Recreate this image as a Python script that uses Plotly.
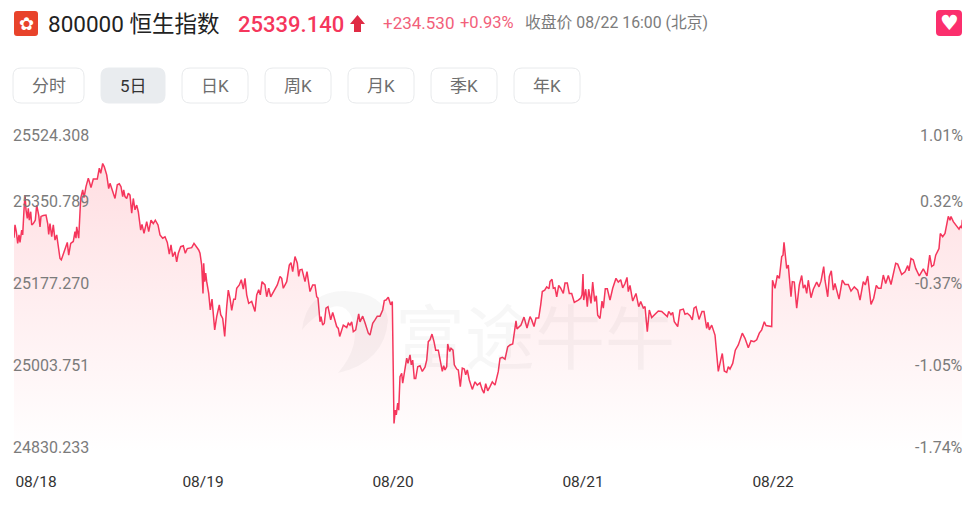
import plotly.graph_objects as go

# session clock (one session = 190 units) and index level
session_t = [
 0,1,2.3,3.7,5,6,7.7,8.7,10,11,12,13.3,14.3,15.3,16.7,17.7,19.3,21.3,22.7,24.7,26,27,29.3,32,33.7,34.7,36,37.7,39.3,41,42.7,44.7,46,47.3,49.3,52,53.3,54.7,56.7,59.3,61,62,62.7,64.7,65.3,66.7,68.7,70,72,74.3,75.3,77,79.3,83.3,85.3,86.7,88.7,90.3,92.7,94.7,96,97.7,99.3,101,103.3,105.3,107,108.7,109.7,111,112.7,114.3,116,117.7,119.3,121,122.7,124.3,126.7,128,130,132.7,134.7,137,139.3,141.3,144,146,148.7,151,153.3,155.3,157,158.7,161,162.7,164.3,166.7,169.3,171.3,173.3,177.7,180,182.7,184.7,
 186,187.7,189,189.7,190.7,191.7,192.7,194.7,196.3,198,200.7,202.7,205.3,206.7,208.7,210.7,212.7,214.3,216,217.7,219.7,221.3,222.7,225.3,227.3,229.3,231,232.7,234.7,237.7,241,242.7,244.7,246.3,248,251,252.7,254.7,256.7,261,263.3,266,267.7,269.3,272.7,275.3,277,278.7,281,283.3,284.7,286,288,291,293,296,298.7,301,302.7,304,306,307,308.7,310.3,312,314,316.7,318.7,321,322.7,324.3,325.7,329.3,332.7,334.3,336,337.7,339.3,341.7,344.7,346,348.7,351,354.3,356,358.7,361,363.3,366,368.7,370.3,372,374.3,376.7,378.3,
 379.3,380,381.3,382.3,383.7,384.7,386,387.7,388.7,390.3,392.7,394,396,397.3,398.7,400.3,401.7,403.7,406,408.3,411,412.7,414.3,416,418,420,421.7,424.3,426,428.3,429.7,431,432.7,433.7,435.7,437,439,440.3,442.7,444.3,446.3,448.3,450.3,451.7,453.3,455.3,458.3,461,463.3,466,468.3,470,471.7,473.7,476,478.3,481,483,484.3,486,488.3,491,493.7,496,498.7,502,503,507,510,513,
 516,517.7,520,522,524.7,526.7,528.3,530.7,532.7,535,536,538,539.3,541,542.7,544.7,546.7,549.3,551,553.3,555.3,557.7,560.3,564.3,566.7,568,569,569.7,571.7,573.3,574.7,577,578.7,580.7,582.3,583.7,586,588,589.3,591.3,593.3,596,598.7,602,604.3,606.7,608.7,611,613,614.3,616,618.7,622,624.7,626.7,629.3,631,633.3,635.3,637.7,641,644.3,647.7,650.3,653.3,654.7,657,658.7,660.3,663.7,666,669.3,671,673.3,676,678.3,680,682,685,688,690,692.7,694,695.3,697.7,701,702.7,704.3,706.7,708.3,710.3,712.7,714.3,716,718.7,721.3,724.3,726,728.3,731,734.3,737,740,742.7,745.3,747.7,750.3,752,757.7,
 758.5,761,763.3,765.3,767.7,769,770,771,772.7,774.3,777,778.3,780.3,782.7,785.3,787.7,789.3,791,792.7,794.3,797,799.3,802.7,805,807,809.7,811,813.7,815.3,817.3,819.3,821,825,828.3,831,834.3,837,840.3,843.7,846,849.3,851.3,853.7,857,859.7,862.3,864.3,867,869.3,871.7,874.3,877,879.3,881.7,883.7,887.7,891,893.7,895,897,899.3,901.7,905.3,909.3,913,915.7,917.7,919.7,921.7,925,926.3,928.7,931,932.7,934.3,936,937,939.3,942.7,945,946.7,947.7,948.3]
index_v = [
 25307,25334,25320,25295,25313,25297,25323,25313,25366,25397,25366,25348,25369,25344,25362,25334,25337,25344,25376,25355,25330,25352,25354,25355,25337,25314,25337,25309,25334,25302,25313,25274,25263,25260,25272,25292,25297,25270,25295,25299,25320,25306,25330,25306,25332,25390,25408,25392,25415,25433,25426,25413,25431,25431,25454,25443,25464,25457,25440,25411,25422,25411,25401,25390,25419,25421,25415,25394,25408,25394,25390,25401,25397,25359,25390,25366,25376,25362,25323,25335,25316,25341,25320,25344,25337,25344,25334,25313,25306,25309,25297,25272,25292,25267,25277,25256,25274,25288,25290,25274,25284,25286,25295,25288,25281,
 25274,25249,25189,25253,25214,25232,25214,25189,25154,25177,25112,25140,25165,25144,25136,25098,25161,25196,25179,25153,25177,25177,25200,25207,25218,25198,25221,25186,25168,25172,25151,25186,25197,25186,25214,25207,25182,25200,25182,25200,25207,25225,25221,25200,25214,25249,25254,25235,25267,25253,25225,25239,25240,25214,25235,25193,25207,25207,25182,25179,25129,25140,25122,25126,25158,25161,25133,25149,25133,25119,25115,25098,25122,25117,25126,25122,25129,25108,25112,25146,25129,25141,25127,25105,25101,25126,25133,25141,25141,25154,25174,25175,25181,25165,25172,
 25006,24914,24942,24932,24957,24942,25013,25020,24999,25020,25052,25041,25059,25038,25048,25009,25009,25034,25036,25024,25033,25048,25087,25091,25103,25087,25069,25069,25052,25024,25036,25027,25034,25082,25066,25073,25069,25038,25029,25027,24992,25031,25029,25017,25027,25006,24986,25002,24995,25000,24985,24978,24998,24983,24992,25002,24995,25017,25024,25052,25054,25050,25076,25080,25082,25131,25114,25122,25139,25116,
 25140,25133,25119,25137,25137,25165,25193,25196,25203,25199,25214,25219,25200,25201,25182,25206,25200,25189,25211,25211,25189,25189,25170,25175,25179,25186,25230,25175,25198,25161,25198,25168,25213,25172,25184,25143,25136,25173,25158,25199,25199,25175,25200,25221,25213,25218,25201,25210,25223,25193,25206,25173,25189,25161,25172,25158,25161,25108,25154,25138,25144,25152,25151,25145,25140,25151,25144,25149,25129,25119,25154,25156,25145,25147,25142,25133,25158,25161,25134,25151,25151,25115,25128,25112,25122,25101,25066,25024,25048,25062,25025,25022,25034,25029,25041,25069,25080,25091,25105,25094,25074,25089,25087,25091,25105,25112,25129,25121,25119,
 25217,25200,25227,25221,25267,25270,25297,25277,25242,25249,25182,25214,25213,25158,25207,25227,25200,25207,25189,25217,25180,25198,25213,25203,25215,25246,25217,25182,25225,25237,25196,25210,25177,25217,25208,25208,25194,25203,25196,25175,25214,25207,25226,25166,25179,25206,25200,25200,25228,25210,25227,25208,25227,25253,25251,25229,25235,25248,25237,25263,25260,25242,25226,25241,25226,25270,25246,25249,25270,25284,25316,25309,25316,25337,25352,25344,25352,25341,25332,25325,25332,25327,25345]

day_labels = ["08/18", "08/19", "08/20", "08/21", "08/22"]
day_ticks = [22, 189, 379, 569, 759]
price_ticks = [25524.308, 25350.789, 25177.270, 25003.751, 24830.233]
pct_labels = ["1.01%", "0.32%", "-0.37%", "-1.05%", "-1.74%"]
periods = ["分时", "5日", "日K", "周K", "月K", "季K", "年K"]
period_x0 = [13, 101, 182, 265, 348, 431, 514]
period_x1 = [84, 165, 248, 331, 414, 497, 580]

W, H = 975, 510
L, R, T, B = 14, 962, 135, 463
FONT = "Roboto, 'Noto Sans CJK SC', sans-serif"
GREY = "#7b7b7b"
RED = "#f5365c"


def px(x):
    return (x - L) / (R - L)


def py(y):
    return (B - y) / (B - T)


def rrect(x0, y0, x1, y1, r):
    a, b, c, d = px(x0), px(x1), py(y0), py(y1)
    ar, br = px(x0 + r), px(x1 - r)
    cr, dr = py(y0 + r), py(y1 - r)
    return (f"M{ar},{c} L{br},{c} Q{b},{c} {b},{cr} L{b},{dr} Q{b},{d} {br},{d} "
            f"L{ar},{d} Q{a},{d} {a},{dr} L{a},{cr} Q{a},{c} {ar},{c} Z")


def poly(points):
    return "M" + " L".join(f"{px(x)},{py(y)}" for x, y in points) + " Z"


fig = go.Figure()
fig.add_trace(go.Scatter(
    x=session_t, y=index_v, mode="lines",
    line=dict(color=RED, width=1.5),
    fill="tozeroy",
    fillgradient=dict(type="vertical", start=24850, stop=25480,
                      colorscale=[[0, "rgba(255,70,90,0.0)"], [0.5, "rgba(255,70,90,0.09)"], [1, "rgba(255,70,90,0.18)"]]),
    hoverinfo="skip", showlegend=False))

shapes = []
ann = []


def text(x, y, s, size, color, anchor="left", family=FONT, weight=None):
    ann.append(dict(xref="paper", yref="paper", x=px(x), y=py(y), text=s, showarrow=False,
                    xanchor=anchor, yanchor="middle", align=anchor,
                    font=dict(family=family, size=size, color=color, weight=weight)))


# header
shapes.append(dict(type="path", xref="paper", yref="paper", path=rrect(14, 11, 38, 36, 3),
                   fillcolor="#e8432b", line_width=0))
text(26, 23.5, "✿", 18, "#ffffff", "center", "DejaVu Sans")
text(46, 24, "800000 恒生指数", 22.5, "#222222")
text(236, 24, "25339.140", 22, RED, weight=500)
shapes.append(dict(type="path", xref="paper", yref="paper",
                   path=poly([(357.5, 15), (365, 24), (361, 24), (361, 32), (354, 32), (354, 24), (350, 24)]),
                   fillcolor="#e02b45", line_width=0))
text(381, 23, "+234.530", 17, "#f2607a")
text(458, 23, "+0.93%", 16.5, "#f2607a")
text(523, 23, "收盘价 08/22 16:00 (北京)", 15.8, GREY)
# favourite button
shapes.append(dict(type="path", xref="paper", yref="paper", path=rrect(936, 10, 962, 36, 4),
                   fillcolor="#fb2f6d", line_width=0))
text(949, 23, "♥", 21, "#ffffff", "center", "DejaVu Sans")

# period buttons
for name, a, b in zip(periods, period_x0, period_x1):
    active = name == "5日"
    shapes.append(dict(type="path", xref="paper", yref="paper", path=rrect(a, 68, b, 103, 8),
                       fillcolor="#e9ecef" if active else "#ffffff",
                       line=dict(color="#e9ecef" if active else "#e8eaec", width=1)))
    text((a + b) / 2, 85.5, name, 17, "#333333" if active else "#6e6e6e", "center")

# value labels sit above their levels, the top one centred on it
for i, (v, pct) in enumerate(zip(price_ticks, pct_labels)):
    shift = 0 if i == 0 else 16
    for s, xp, anchor in ((f"{v:.3f}", px(11), "left"), (pct, px(965), "right")):
        ann.append(dict(xref="paper", yref="y", x=xp, y=v, yshift=shift, text=s, showarrow=False,
                        xanchor=anchor, yanchor="middle",
                        font=dict(family=FONT, size=16, color=GREY)))

# watermark
WM = "rgba(110,110,110,0.055)"
shapes.append(dict(type="path", xref="paper", yref="paper", layer="above", fillcolor=WM, line_width=0,
                   path=(f"M{px(302)},{py(330)} Q{px(306)},{py(291)} {px(345)},{py(291)} "
                         f"Q{px(385)},{py(293)} {px(388)},{py(320)} Q{px(385)},{py(362)} {px(338)},{py(373)} "
                         f"Q{px(362)},{py(345)} {px(352)},{py(318)} Q{px(344)},{py(298)} {px(322)},{py(312)} "
                         f"Q{px(308)},{py(322)} {px(302)},{py(330)} Z")))
text(393, 333, "富途牛牛", 70, WM, "left", "'Noto Sans CJK SC'", 400)

fig.update_layout(
    width=W, height=H, autosize=False,
    margin=dict(l=L, r=W - R, t=T, b=H - B, pad=0),
    paper_bgcolor="#ffffff", plot_bgcolor="#ffffff",
    shapes=shapes, annotations=ann, showlegend=False,
    font=dict(family=FONT),
    xaxis=dict(range=[0, R - L], tickmode="array", tickvals=day_ticks, ticktext=day_labels,
               showgrid=False, zeroline=False, showline=False, ticks="outside", ticklen=4,
               tickcolor="rgba(0,0,0,0)", tickfont=dict(family=FONT, size=15.5, color="#333333")),
    yaxis=dict(range=[price_ticks[-1], price_ticks[0]], tickmode="array", tickvals=price_ticks,
               showticklabels=False, showgrid=False, zeroline=False, showline=False, ticks=""),
)

fig.write_html("out.html", config=dict(displayModeBar=False),
               post_script="document.body.style.margin='0';")
